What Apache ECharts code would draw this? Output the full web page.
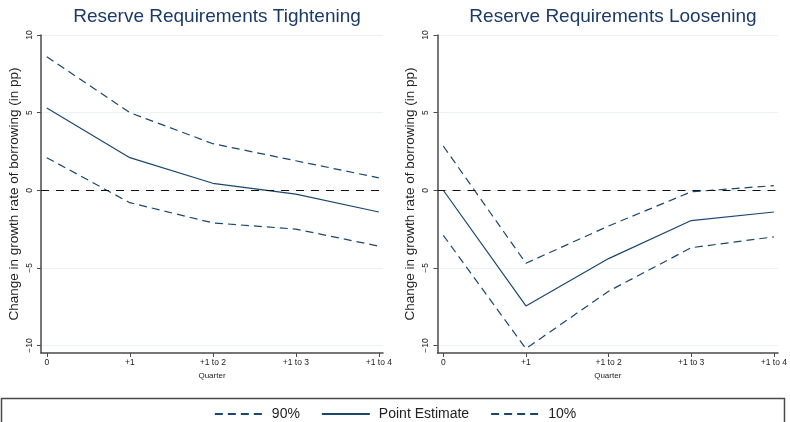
<!DOCTYPE html>
<html>
<head>
<meta charset="utf-8">
<script src="https://cdn.jsdelivr.net/npm/echarts@6/dist/echarts.min.js"></script>
<style>
  html, body { margin: 0; padding: 0; background: #fff; }
  #chart { width: 790px; height: 422px; }
</style>
</head>
<body>
<div id="chart"></div>
<script>
// quarters on the x axis
const quarterLabels = ['0', '+1', '+1 to 2', '+1 to 3', '+1 to 4'];
const yTicks = [-10, -5, 0, 5, 10];

// tightening panel
const tightUpper = [8.6, 5.0, 3.0, 1.9, 0.8];
const tightPoint = [5.3, 2.1, 0.45, -0.25, -1.4];
const tightLower = [2.1, -0.8, -2.1, -2.5, -3.6];

// loosening panel
const looseUpper = [2.85, -4.7, -2.3, -0.1, 0.3];
const loosePoint = [0.0, -7.45, -4.4, -1.95, -1.4];
const looseLower = [-2.9, -10.2, -6.5, -3.7, -3.0];

const navy = '#1a476f';
const font = 'Liberation Sans, Arial, sans-serif';

let myChart = echarts.init(document.getElementById('chart'));

function pairs(vals) {
  return vals.map((v, i) => [i, v]);
}

function makeX(idx) {
  return {
    type: 'value', gridIndex: idx, min: -0.07, max: 4.05,
    name: 'Quarter', nameLocation: 'middle', nameGap: 19,
    nameTextStyle: { fontSize: 8, color: '#222', fontFamily: font },
    axisLine: { show: true, onZero: false, lineStyle: { color: '#4a4a4a', width: 1.5 } },
    axisTick: { show: true, length: 4, customValues: [0, 1, 2, 3, 4], lineStyle: { color: '#4a4a4a' } },
    axisLabel: {
      customValues: [0, 1, 2, 3, 4], margin: 5, fontSize: 8.5, color: '#222', fontFamily: font,
      formatter: v => quarterLabels[Math.round(v)]
    },
    splitLine: { show: false }
  };
}

function makeY(idx) {
  return {
    type: 'value', gridIndex: idx, min: -10.48, max: 10,
    name: 'Change in growth rate of borrowing (in pp)', nameLocation: 'middle', nameGap: 20,
    nameTextStyle: { fontSize: 13.5, color: '#222', fontFamily: font },
    axisLine: { show: true, onZero: false, lineStyle: { color: '#4a4a4a', width: 1.5 } },
    axisTick: { show: true, length: 4, customValues: yTicks, lineStyle: { color: '#4a4a4a' } },
    axisLabel: {
      customValues: yTicks, rotate: 90, margin: 7, fontSize: 8.5, color: '#222', fontFamily: font,
      formatter: v => String(v).replace('-', '\u2212')
    },
    splitLine: { show: true, lineStyle: { color: '#eaf2f3', width: 1 } }
  };
}

function band(name, idx, vals) {
  return {
    name: name, type: 'line', xAxisIndex: idx, yAxisIndex: idx,
    data: pairs(vals), symbol: 'none', silent: true,
    lineStyle: { color: navy, width: 1.2, type: [8, 5] },
    itemStyle: { color: navy }
  };
}

function point(idx, vals) {
  return {
    name: 'Point Estimate', type: 'line', xAxisIndex: idx, yAxisIndex: idx,
    data: pairs(vals), symbol: 'none', silent: true, z: 3,
    lineStyle: { color: navy, width: 1.2 },
    itemStyle: { color: navy },
    // zero reference line
    markLine: {
      silent: true, symbol: ['none', 'none'], label: { show: false },
      lineStyle: { color: '#111', width: 1.2, type: 'dashed', dashOffset: 0 },
      emphasis: { disabled: true },
      data: [{ yAxis: 0, lineStyle: { type: [8, 7] } }]
    }
  };
}

let option = {
  backgroundColor: '#fff',
  animation: false,
  title: [
    { text: 'Reserve Requirements Tightening', left: 212, top: 2, textAlign: 'center',
      textStyle: { fontSize: 19, fontWeight: 'normal', color: '#1c3a68', fontFamily: font } },
    { text: 'Reserve Requirements Loosening', left: 608, top: 2, textAlign: 'center',
      textStyle: { fontSize: 19, fontWeight: 'normal', color: '#1c3a68', fontFamily: font } }
  ],
  grid: [
    { left: 41, top: 35, width: 342, height: 318 },
    { left: 437.5, top: 35, width: 343, height: 318 }
  ],
  xAxis: [makeX(0), makeX(1)],
  yAxis: [makeY(0), makeY(1)],
  legend: {
    data: ['90%', 'Point Estimate', '10%'],
    left: 'center', top: 402,
    itemWidth: 48, itemHeight: 14, itemGap: 21,
    itemStyle: { opacity: 0 },
    textStyle: { fontSize: 14, color: '#222', fontFamily: font, padding: [0, 0, 0, 4] }
  },
  graphic: [
    { type: 'rect', shape: { x: 1.5, y: 398.5, width: 783, height: 40 },
      style: { fill: 'none', stroke: '#4a4a4a', lineWidth: 1.5 }, silent: true }
  ],
  series: [
    band('90%', 0, tightUpper),
    point(0, tightPoint),
    band('10%', 0, tightLower),
    band('90%', 1, looseUpper),
    point(1, loosePoint),
    band('10%', 1, looseLower)
  ]
};

myChart.setOption(option);
</script>
</body>
</html>
